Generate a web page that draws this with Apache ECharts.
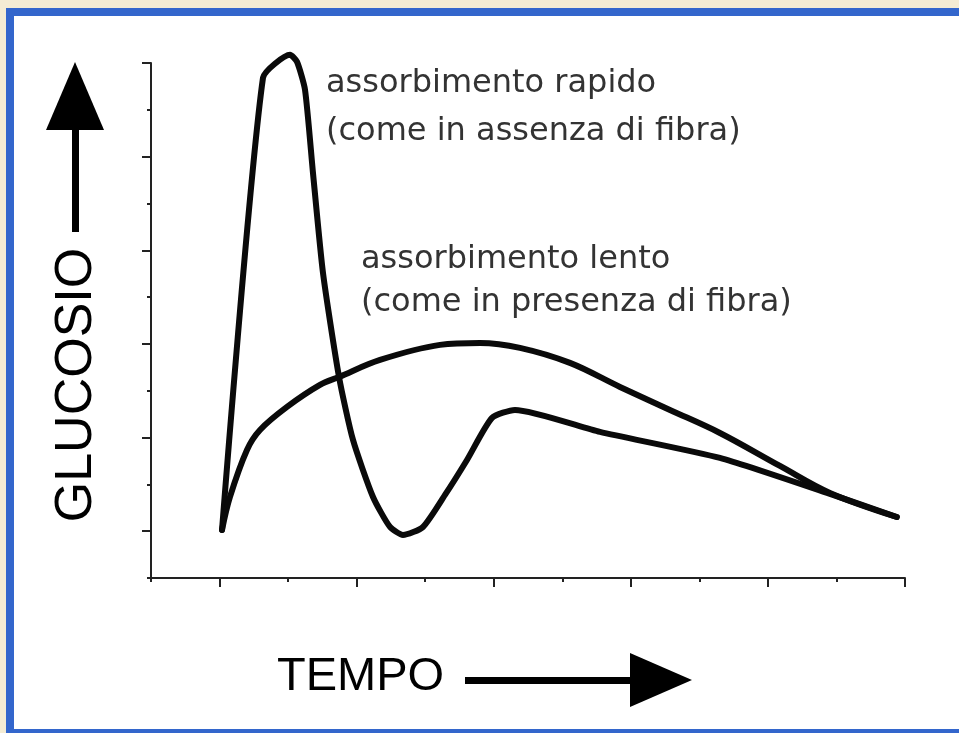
<!DOCTYPE html>
<html><head><meta charset="utf-8">
<script src="https://cdn.jsdelivr.net/npm/echarts@6/dist/echarts.min.js"></script>
<style>
html,body{margin:0;padding:0;background:#f4ecd4;width:959px;height:733px;overflow:hidden;}
#frame{position:absolute;left:6px;top:8px;width:945px;height:713px;background:#fff;border-top:8px solid #3366cc;border-left:8px solid #3366cc;border-bottom:4px solid #3366cc;}
#chart{position:absolute;left:0;top:0;width:959px;height:733px;}
</style></head><body><div id="frame"></div><div id="chart"></div>
<script>
// tick labels (hidden in original): 12 tick positions on each axis
const timeTicks = ['0','1','2','3','4','5','6','7','8','9','10','11'];
const glucoseTicks = ['0','1','2','3','4','5','6','7','8','9','10','11'];

// assorbimento rapido (come in assenza di fibra)
const rapidX = [1.036, 1.634, 2.028, 2.130, 2.247, 2.363, 2.509, 2.743, 2.947, 3.239, 3.487, 3.676, 3.968, 4.289, 4.610, 4.975, 5.310, 6.550, 8.300, 9.905, 10.88];
const rapidY = [1.026, 10.684, 11.175, 11.026, 10.427, 8.654, 6.517, 4.295, 2.949, 1.731, 1.090, 0.919, 1.090, 1.774, 2.521, 3.419, 3.590, 3.120, 2.564, 1.795, 1.303];

// assorbimento lento (come in presenza di fibra)
const slowX = [1.036, 1.152, 1.400, 1.590, 1.984, 2.465, 2.743, 3.341, 4.216, 4.800, 5.383, 6.112, 6.842, 7.571, 8.300, 9.176, 9.905, 10.88];
const slowY = [1.026, 1.731, 2.735, 3.162, 3.654, 4.124, 4.295, 4.658, 4.979, 5.021, 4.915, 4.594, 4.081, 3.590, 3.098, 2.393, 1.816, 1.303];

const zip = (xs, ys) => xs.map((x, i) => [x, ys[i]]);

const axisColor = '#222';
const chart = echarts.init(document.getElementById('chart'), null, {renderer: 'canvas'});
chart.setOption({
  backgroundColor: 'transparent',
  animation: false,
  grid: {left: 151, right: 54, top: 63, bottom: 155, containLabel: false},
  xAxis: [
    {type: 'value', min: 0, max: 11, interval: 1, position: 'bottom',
     axisLine: {show: true, onZero: false, lineStyle: {color: axisColor, width: 2}},
     axisTick: {show: true, length: 4, lineStyle: {color: axisColor, width: 2}},
     axisLabel: {show: false}, splitLine: {show: false}},
    {type: 'category', data: timeTicks, boundaryGap: false, position: 'bottom',
     axisLine: {show: false, onZero: false},
     axisTick: {show: true, length: 9, interval: (i) => i % 2 === 1, lineStyle: {color: axisColor, width: 2}},
     axisLabel: {show: false}, splitLine: {show: false}}
  ],
  yAxis: [
    {type: 'value', min: 0, max: 11, interval: 1, position: 'left',
     axisLine: {show: true, onZero: false, lineStyle: {color: axisColor, width: 2}},
     axisTick: {show: true, length: 4, lineStyle: {color: axisColor, width: 2}},
     axisLabel: {show: false}, splitLine: {show: false}},
    {type: 'category', data: glucoseTicks, boundaryGap: false, position: 'left',
     axisLine: {show: false, onZero: false},
     axisTick: {show: true, length: 9, interval: (i) => i % 2 === 1, lineStyle: {color: axisColor, width: 2}},
     axisLabel: {show: false}, splitLine: {show: false}}
  ],
  series: [
    {name: 'assorbimento rapido', type: 'line', xAxisIndex: 0, yAxisIndex: 0, clip: false,
     data: zip(rapidX, rapidY), showSymbol: false, smooth: 0.2,
     lineStyle: {color: '#0a0a0a', width: 6, join: 'round', cap: 'round'}, z: 5},
    {name: 'assorbimento lento', type: 'line', xAxisIndex: 0, yAxisIndex: 0, clip: false,
     data: zip(slowX, slowY), showSymbol: false, smooth: 0.35,
     lineStyle: {color: '#0a0a0a', width: 6, join: 'round', cap: 'round'}, z: 5}
  ],
  graphic: [
    {type: 'text', x: 326, y: 84, style: {text: 'assorbimento rapido', font: '32px "DejaVu Sans"', fill: '#333', textAlign: 'left', textVerticalAlign: 'middle'}},
    {type: 'text', x: 326, y: 132, style: {text: '(come in assenza di fibra)', font: '32px "DejaVu Sans"', fill: '#333', textAlign: 'left', textVerticalAlign: 'middle'}},
    {type: 'text', x: 361, y: 260, style: {text: 'assorbimento lento', font: '32px "DejaVu Sans"', fill: '#333', textAlign: 'left', textVerticalAlign: 'middle'}},
    {type: 'text', x: 361, y: 303, style: {text: '(come in presenza di fibra)', font: '32px "DejaVu Sans"', fill: '#333', textAlign: 'left', textVerticalAlign: 'middle'}},
    {type: 'text', x: 77, y: 385, rotation: Math.PI / 2, style: {text: 'GLUCOSIO', font: '52px "Liberation Sans"', fill: '#000', textAlign: 'center', textVerticalAlign: 'middle'}},
    {type: 'rect', shape: {x: 72, y: 124, width: 7, height: 108}, style: {fill: '#000'}},
    {type: 'polygon', shape: {points: [[75, 62], [104, 130], [46, 130]]}, style: {fill: '#000'}},
    {type: 'text', x: 277, y: 677, style: {text: 'TEMPO', font: '47px "Liberation Sans"', fill: '#000', textAlign: 'left', textVerticalAlign: 'middle'}},
    {type: 'rect', shape: {x: 465, y: 677, width: 170, height: 7}, style: {fill: '#000'}},
    {type: 'polygon', shape: {points: [[630, 653], [692, 680], [630, 707]]}, style: {fill: '#000'}}
  ]
});
</script></body></html>
